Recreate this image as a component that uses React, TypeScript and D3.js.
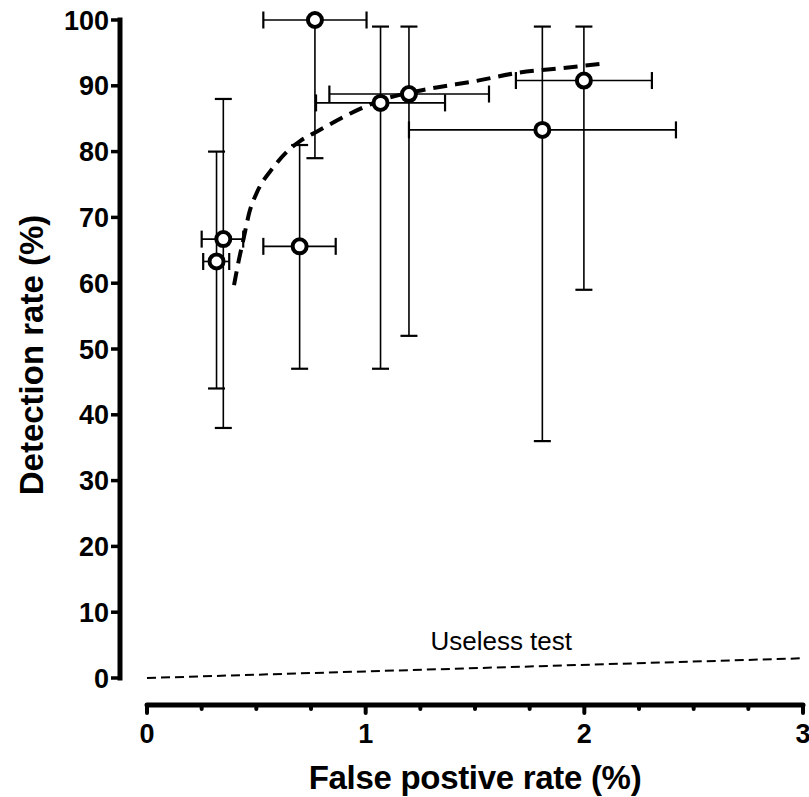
import React, { useEffect, useRef } from 'react'
import * as d3 from 'd3'

// Study points: false positive rate (%) with range, detection rate (%) with range
const fpr = [0.318, 0.349, 0.698, 0.768, 1.068, 1.198, 1.808, 1.998]
const fprLow = [0.257, 0.25, 0.532, 0.532, 0.773, 0.834, 1.198, 1.687]
const fprHigh = [0.376, 0.44, 0.863, 1.004, 1.363, 1.564, 2.419, 2.309]
const detection = [63.3, 66.7, 65.6, 100, 87.4, 88.75, 83.3, 90.8]
const detectionLow = [44, 38, 47, 79, 47, 52, 36, 59]
const detectionHigh = [80, 88, 81, 100, 99, 99, 99, 99]

// Fitted summary curve
const curveFpr = [0.398, 0.42, 0.44, 0.47, 0.5, 0.58, 0.64, 0.7, 0.78, 0.93, 1.07, 1.3, 1.5, 1.7, 1.9, 2.07]
const curveDetection = [59.7, 63.5, 66.5, 71, 73.6, 77.7, 80, 81.6, 83.1, 85.8, 87.8, 89.6, 90.7, 92, 92.7, 93.3]

// Diagonal of a useless test
const uselessFpr = [0, 3]
const uselessDetection = [0, 3]

const xMajorTicks = [0, 1, 2, 3]
const xMinorTicks = [0.25, 0.5, 0.75, 1.25, 1.5, 1.75, 2.25, 2.5, 2.75]
const yTicks = [0, 10, 20, 30, 40, 50, 60, 70, 80, 90, 100]

const FONT = '"Liberation Sans", Arial, Helvetica, sans-serif'

export default function App() {
  const svgRef = useRef<SVGSVGElement>(null)

  useEffect(() => {
    const width = 809
    const height = 797
    const svg = d3.select(svgRef.current)
    svg.selectAll('*').remove()

    const x = d3.scaleLinear().domain([0, 3]).range([147, 803])
    const y = d3.scaleLinear().domain([0, 100]).range([678, 20])
    const axisX = 120
    const axisY = 705

    // Useless test line
    svg.append('path')
      .datum(uselessFpr.map((v, i) => [v, uselessDetection[i]]))
      .attr('fill', 'none')
      .attr('stroke', '#000')
      .attr('stroke-width', 2)
      .attr('stroke-dasharray', '9,5')
      .attr('d', d3.line<number[]>().x(d => x(d[0])).y(d => y(d[1])))

    svg.append('text')
      .attr('x', x(1.62))
      .attr('y', y(4.2))
      .attr('text-anchor', 'middle')
      .attr('font-family', FONT)
      .attr('font-size', 26)
      .text('Useless test')

    // Summary curve
    svg.append('path')
      .datum(curveFpr.map((v, i) => [v, curveDetection[i]]))
      .attr('fill', 'none')
      .attr('stroke', '#000')
      .attr('stroke-width', 4)
      .attr('stroke-dasharray', '14,8')
      .attr('d', d3.line<number[]>().x(d => x(d[0])).y(d => y(d[1])).curve(d3.curveMonotoneX))

    // Error bars
    const pts = fpr.map((v, i) => ({
      x: v, xl: fprLow[i], xh: fprHigh[i],
      y: detection[i], yl: detectionLow[i], yh: detectionHigh[i],
    }))
    const bars = svg.append('g').attr('stroke', '#000')
    const cap = 8.5
    pts.forEach(p => {
      bars.append('line')
        .attr('x1', x(p.x)).attr('x2', x(p.x))
        .attr('y1', y(p.yl)).attr('y2', y(p.yh))
        .attr('stroke-width', 1.6)
      bars.append('line')
        .attr('x1', x(p.xl)).attr('x2', x(p.xh))
        .attr('y1', y(p.y)).attr('y2', y(p.y))
        .attr('stroke-width', 1.6)
      ;[p.yl, p.yh].forEach(v => {
        if (v === p.y) return
        bars.append('line')
          .attr('x1', x(p.x) - cap).attr('x2', x(p.x) + cap)
          .attr('y1', y(v)).attr('y2', y(v))
          .attr('stroke-width', 2.2)
      })
      ;[p.xl, p.xh].forEach(v => {
        bars.append('line')
          .attr('x1', x(v)).attr('x2', x(v))
          .attr('y1', y(p.y) - cap).attr('y2', y(p.y) + cap)
          .attr('stroke-width', 2.2)
      })
    })

    // Points
    svg.append('g')
      .selectAll('circle')
      .data(pts)
      .enter().append('circle')
      .attr('cx', d => x(d.x))
      .attr('cy', d => y(d.y))
      .attr('r', 7)
      .attr('fill', '#fff')
      .attr('stroke', '#000')
      .attr('stroke-width', 4)

    // Y axis
    const gy = svg.append('g').attr('transform', `translate(${axisX},0)`)
    gy.append('line')
      .attr('x1', 0).attr('x2', 0)
      .attr('y1', y(100)).attr('y2', y(0))
      .attr('stroke', '#000').attr('stroke-width', 5).attr('stroke-linecap', 'square')
    gy.selectAll('.tick')
      .data(yTicks)
      .enter().append('line')
      .attr('x1', -9).attr('x2', 0)
      .attr('y1', d => y(d)).attr('y2', d => y(d))
      .attr('stroke', '#000').attr('stroke-width', 3.5)
    gy.selectAll('.label')
      .data(yTicks)
      .enter().append('text')
      .attr('x', -11)
      .attr('y', d => y(d) + 9.6)
      .attr('text-anchor', 'end')
      .attr('font-family', FONT)
      .attr('font-weight', 'bold')
      .attr('font-size', 27)
      .text(d => d3.format('d')(d))

    // X axis
    const gx = svg.append('g').attr('transform', `translate(0,${axisY})`)
    gx.append('line')
      .attr('x1', x(0)).attr('x2', x(3))
      .attr('y1', 0).attr('y2', 0)
      .attr('stroke', '#000').attr('stroke-width', 5).attr('stroke-linecap', 'round')
    gx.selectAll('.major')
      .data(xMajorTicks)
      .enter().append('line')
      .attr('x1', d => x(d)).attr('x2', d => x(d))
      .attr('y1', 0).attr('y2', 8)
      .attr('stroke', '#000').attr('stroke-width', 4).attr('stroke-linecap', 'round')
    gx.selectAll('.minor')
      .data(xMinorTicks)
      .enter().append('line')
      .attr('x1', d => x(d)).attr('x2', d => x(d))
      .attr('y1', 0).attr('y2', 4)
      .attr('stroke', '#000').attr('stroke-width', 4).attr('stroke-linecap', 'round')
    gx.selectAll('.label')
      .data(xMajorTicks)
      .enter().append('text')
      .attr('x', d => x(d))
      .attr('y', 38)
      .attr('text-anchor', 'middle')
      .attr('font-family', FONT)
      .attr('font-weight', 'bold')
      .attr('font-size', 27)
      .text(d => d3.format('d')(d))

    // Axis titles
    svg.append('text')
      .attr('x', (x(0) + x(3)) / 2)
      .attr('y', 789)
      .attr('text-anchor', 'middle')
      .attr('font-family', FONT)
      .attr('font-weight', 'bold')
      .attr('font-size', 33)
      .attr('letter-spacing', -0.3)
      .text('False postive rate (%)')

    svg.append('text')
      .attr('transform', `translate(43,${(y(0) + y(100)) / 2 + 6}) rotate(-90)`)
      .attr('text-anchor', 'middle')
      .attr('font-family', FONT)
      .attr('font-weight', 'bold')
      .attr('font-size', 33)
      .text('Detection rate (%)')

    svg.attr('width', width).attr('height', height)
  }, [])

  return (
    <div style={{ position: 'absolute', left: 0, top: 0 }}>
      <svg ref={svgRef} width={809} height={797} style={{ display: 'block', background: '#fff' }} />
    </div>
  )
}
